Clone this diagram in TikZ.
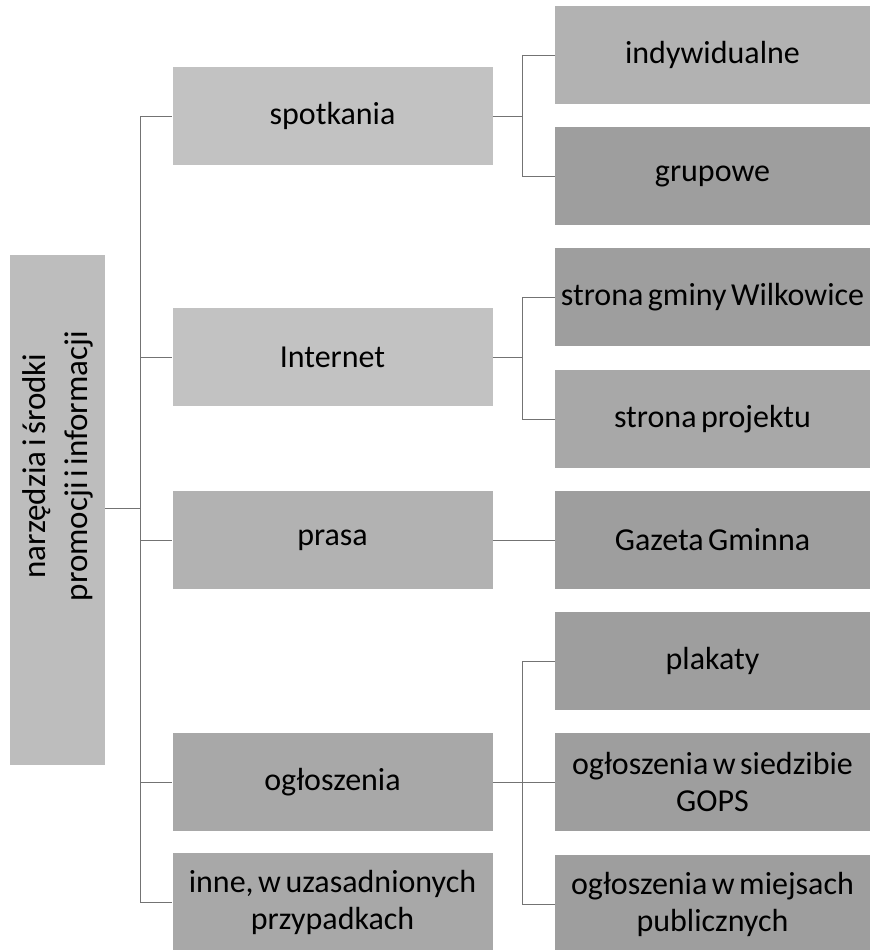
\documentclass[tikz,border=0pt]{standalone}
\usepackage{fontspec}
\setmainfont{Carlito}
\newcommand{\tightsp}{\spaceskip=0.14em plus 0.05em\relax}
\newcommand{\boxfont}{\fontsize{32}{37}\selectfont\tightsp}
\newcommand{\rootfont}{\fontsize{33}{42}\selectfont\tightsp}
\begin{document}
\begin{tikzpicture}[x=1pt,y=-1pt,
  box/.style={rectangle, draw=none, inner sep=1pt, align=center,
    font=\boxfont, text=black},
  lone/.style={box, fill=black!24, minimum width=320pt, minimum height=98pt},
  ltwo/.style={box, fill=black!38, minimum width=315pt, minimum height=98pt},
  rootbox/.style={rectangle, draw=none, fill=black!26, minimum width=95pt, minimum height=510pt},
  roottext/.style={rectangle, inner sep=1pt, align=center, rotate=90, font=\rootfont, text=black},
  conn/.style={draw=black!55, line width=0.9pt}]
\useasboundingbox (0,0) rectangle (870,950);

% root
\node[rootbox] (root) at (57.5,510) {};
\node[roottext] (roott) at ([yshift=44pt]root.center) {narzędzia i środki\\promocji i informacji};

% level 1
\node[lone] (spot) at (332.5,116) {spotkania};
\node[lone] (inter) at (332.5,357) {Internet};
\node[lone, fill=black!30] (prasa) at (332.5,540) {prasa};
\node[lone, fill=black!34] (oglo) at (332.5,782) {ogłoszenia};
\node[lone, fill=black!34] (inne) at (332.5,902) {inne, w uzasadnionych\\przypadkach};

% level 2
\node[ltwo, fill=black!30] (indy) at (712.5,55) {indywidualne};
\node[ltwo] (grup) at (712.5,176) {grupowe};
\node[ltwo] (sgw) at (712.5,297) {strona gminy Wilkowice};
\node[ltwo, fill=black!34] (spr) at (712.5,419) {strona projektu};
\node[ltwo] (gaz) at (712.5,540) {Gazeta Gminna};
\node[ltwo] (plak) at (712.5,661) {plakaty};
\node[ltwo] (ogops) at (712.5,782) {ogłoszenia w siedzibie\\GOPS};
\node[ltwo] (omp) at (712.5,904) {ogłoszenia w miejsach\\publicznych};

% trunk coordinates
\coordinate (tk) at (140,0);
\coordinate (sk) at (522,0);
\coordinate (rj) at (0,508);

% root to trunk
\draw[conn] (root.east |- rj) -- (tk |- rj);
\draw[conn] (tk |- spot.west) -- (tk |- inne.west);
\foreach \n in {spot,inter,prasa,oglo,inne}
  \draw[conn] (tk |- \n.west) -- (\n.west);

% spotkania
\draw[conn] (spot.east) -- (spot.east -| sk);
\draw[conn] (sk |- indy.west) -- (sk |- grup.west);
\draw[conn] (sk |- indy.west) -- (indy.west);
\draw[conn] (sk |- grup.west) -- (grup.west);

% Internet
\draw[conn] (inter.east) -- (inter.east -| sk);
\draw[conn] (sk |- sgw.west) -- (sk |- spr.west);
\draw[conn] (sk |- sgw.west) -- (sgw.west);
\draw[conn] (sk |- spr.west) -- (spr.west);

% prasa
\draw[conn] (prasa.east) -- (gaz.west);

% ogloszenia
\draw[conn] (oglo.east) -- (ogops.west);
\draw[conn] (sk |- plak.west) -- (sk |- omp.west);
\draw[conn] (sk |- plak.west) -- (plak.west);
\draw[conn] (sk |- omp.west) -- (omp.west);
\end{tikzpicture}
\end{document}
